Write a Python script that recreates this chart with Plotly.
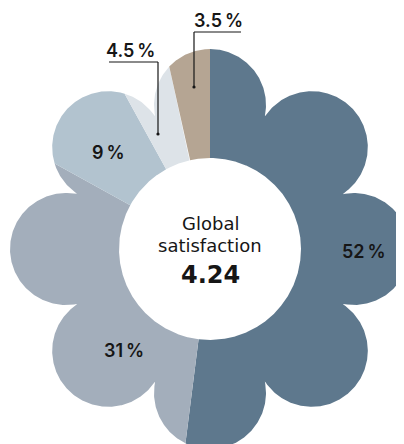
import numpy as np
import plotly.graph_objects as go

# ---- data ----
categories = ["Very satisfied", "Satisfied", "Neutral", "Dissatisfied", "Very dissatisfied"]
shares = [52, 31, 9, 4.5, 3.5]
labels = ["52\u2009%", "31\u2009%", "9\u2009%", "4.5\u2009%", "3.5\u2009%"]
colors = ["#5e788d", "#a3aebb", "#b2c3cf", "#dde3e8", "#b5a593"]
center_title = ["Global", "satisfaction"]
center_value = "4.24"

# ---- geometry of the flower (layout, not data) ----
HOLE = 91.0
PETAL_D = 144.0
PETAL_R = 56.0
BASE_R = 130.0
N_PETALS = 8


def flower_r(theta_deg):
    th = np.radians(theta_deg)
    best = np.full_like(th, BASE_R)
    for k in range(N_PETALS):
        phi = np.radians(k * 360.0 / N_PETALS)
        delta = th - phi
        s = PETAL_D * np.sin(delta)
        disc = PETAL_R ** 2 - s ** 2
        ok = disc >= 0
        t = np.where(ok, PETAL_D * np.cos(delta) + np.sqrt(np.clip(disc, 0, None)), 0)
        best = np.maximum(best, t)
    return best


fig = go.Figure()
total = sum(shares)
start = 0.0
for cat, v, col in zip(categories, shares, colors):
    a0 = start
    a1 = start + 360.0 * v / total
    start = a1
    n = max(int((a1 - a0) / 0.2), 4)
    ang = np.linspace(a0, a1, n)
    ro = flower_r(ang)
    ri = np.full_like(ang, HOLE)
    angs = np.concatenate([ang, ang[::-1], ang[:1]])
    rs = np.concatenate([ro, ri[::-1], ro[:1]])
    x = rs * np.sin(np.radians(angs))
    y = rs * np.cos(np.radians(angs))
    fig.add_trace(go.Scatter(x=x, y=y, fill="toself", mode="lines",
                             line=dict(width=0, color=col), fillcolor=col,
                             name=cat, hoverinfo="name", showlegend=False))

label_pos = [(154, -2), (-86, -101), (-102, 97), (-80, 199), (8, 229)]
annotations = []
for (lx, ly), txt in zip(label_pos, labels):
    annotations.append(dict(x=lx, y=ly, text=txt, showarrow=False,
                            font=dict(family="Inter", size=18, color="#161616", weight=600),
                            xanchor="center", yanchor="middle"))

annotations.append(dict(x=0, y=26, text=center_title[0], showarrow=False,
                        font=dict(family="DejaVu Sans", size=18, color="#161616")))
annotations.append(dict(x=0, y=4, text=center_title[1], showarrow=False,
                        font=dict(family="DejaVu Sans", size=18, color="#161616")))
annotations.append(dict(x=0, y=-26, text=center_value, showarrow=False,
                        font=dict(family="DejaVu Sans", size=24, color="#161616", weight="bold")))

# leader lines for small slices
leaders = [
    # (horizontal x0, x1, y, vertical end y, vertical x)
    (-101, -52, 187, 115, -52),
    (-16, 31, 217, 162, -16),
]
shapes = []
for x0, x1, yh, yv, xv in leaders:
    shapes.append(dict(type="line", x0=x0, x1=x1, y0=yh, y1=yh,
                       line=dict(color="#161616", width=1.2)))
    shapes.append(dict(type="line", x0=xv, x1=xv, y0=yh, y1=yv,
                       line=dict(color="#161616", width=1.2)))
    shapes.append(dict(type="circle", x0=xv - 1.6, x1=xv + 1.6, y0=yv - 1.6, y1=yv + 1.6,
                       fillcolor="#161616", line=dict(width=0)))

# page body has an 8px margin, so the figure is 396x436 and the axis
# ranges are chosen so the flower centre lands at (210, 249) in the window
fig.update_layout(
    width=396, height=436,
    margin=dict(l=0, r=0, t=0, b=0),
    paper_bgcolor="white", plot_bgcolor="white",
    xaxis=dict(range=[-202, 194], visible=False, fixedrange=True),
    yaxis=dict(range=[-195, 241], visible=False, fixedrange=True),
    annotations=annotations,
    shapes=shapes,
    showlegend=False,
)

fig.write_html("out.html")
